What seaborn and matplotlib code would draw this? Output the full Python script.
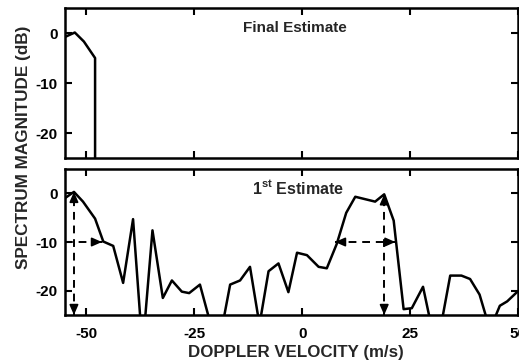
import numpy as np
import pandas as pd
import matplotlib
matplotlib.use("Agg")
import matplotlib.pyplot as plt
import seaborn as sns

# Doppler spectrum, first estimate (m/s, dB)
velocity = [-55, -52.9, -50.8, -48.0, -46.1, -43.8, -41.5, -39.2, -37.0, -34.7,
            -32.3, -30.2, -27.9, -26.2, -23.7, -21.4, -19.1, -16.7, -14.4, -12.1,
            -9.9, -7.8, -5.5, -3.2, -1.2, 1.1, 3.8, 5.7, 8.0, 10.2,
            12.3, 16.9, 19.0, 21.2, 23.5, 25.4, 28.0, 30.1, 32.2, 34.3,
            36.9, 38.9, 41.1, 43.5, 45.8, 47.5, 50.0]
first_db = [-1.0, 0.3, -1.7, -5.2, -9.9, -10.8, -18.4, -5.3, -32.0, -7.6,
            -21.5, -17.9, -20.2, -20.5, -18.75, -26.3, -30.0, -18.75, -17.9, -15.1,
            -27.0, -16.0, -14.4, -20.3, -12.2, -12.7, -15.1, -15.4, -10.4, -4.0,
            -0.7, -1.7, -0.2, -5.6, -23.8, -23.6, -19.2, -28.0, -27.0, -16.9,
            -16.9, -17.6, -20.8, -28.0, -23.1, -22.2, -20.1]

# Final estimate: only the clutter-free part near the low-velocity edge survives
final_velocity = [-55, -52.7, -50.6, -48.0, -48.0, 50.0]
final_db = [-0.8, 0.1, -1.7, -5.0, -40.0, -40.0]

# Width markers (-10 dB points) and peak locations
peak1_v, peak1_db = -52.9, 0.3
width1 = (-55.0, -46.4)
peak2_v, peak2_db = 19.0, -0.2
width2 = (7.6, 21.6)
level_db = -10.0

xticks = [-50, -25, 0, 25, 50]
yticks = [0, -10, -20]

sns.set_theme(style="ticks")
plt.rcParams["font.family"] = ["Liberation Sans", "DejaVu Sans"]
plt.rcParams["mathtext.fontset"] = "custom"
plt.rcParams["mathtext.rm"] = "Liberation Sans:bold"
plt.rcParams["mathtext.it"] = "Liberation Sans:bold"
plt.rcParams["axes.linewidth"] = 1.8
plt.rcParams["axes.unicode_minus"] = False

fig = plt.figure(figsize=(5.19, 3.61), dpi=100)
fig.patch.set_facecolor("white")
ax_top = fig.add_axes([0.125, 0.5623, 0.873, 0.4155])
ax_bot = fig.add_axes([0.125, 0.1274, 0.873, 0.4044])

df_first = pd.DataFrame({"v": velocity, "db": first_db})
df_final = pd.DataFrame({"v": final_velocity, "db": final_db})

sns.lineplot(data=df_final, x="v", y="db", ax=ax_top, color="black", lw=1.8,
             sort=False, estimator=None)
sns.lineplot(data=df_first, x="v", y="db", ax=ax_bot, color="black", lw=1.8,
             sort=False, estimator=None)

for ax in (ax_top, ax_bot):
    ax.set_xlim(-55, 50)
    ax.set_ylim(-25, 5)
    ax.set_xticks(xticks)
    ax.set_yticks(yticks)
    ax.tick_params(direction="in", length=5, width=1.5, top=True, right=True,
                   labelsize=11, colors="black")
    ax.tick_params(axis="y", pad=5)
    ax.tick_params(axis="x", pad=8.5)
    for lbl in ax.get_xticklabels() + ax.get_yticklabels():
        lbl.set_fontweight("bold")
    for s in ax.spines.values():
        s.set_color("black")
        s.set_visible(True)
    ax.set_xlabel("")
    ax.set_ylabel("")
    ax.set_facecolor("white")

ax_top.tick_params(labelbottom=False)
ax_bot.set_xticklabels([str(t) for t in xticks], fontweight="bold")

ax_top.text(-13.7, 1.0, "Final Estimate", fontsize=11, fontweight="bold",
            ha="left", va="center")
ax_bot.text(-11.6, 1.0, r"1$^{\mathrm{st}}$ Estimate", fontsize=11.5,
            fontweight="bold", ha="left", va="center")

dash_kw = dict(color="black", lw=1.4, ls=(0, (4, 3)))
head_kw = dict(arrowstyle="-|>,head_length=0.5,head_width=0.22", color="black",
               lw=1.2, shrinkA=0, shrinkB=0)

def dashed_arrow(ax, x0, y0, x1, y1, both=True):
    ax.plot([x0, x1], [y0, y1], **dash_kw, clip_on=False)
    dx, dy = (x1 - x0), (y1 - y0)
    ax.annotate("", xy=(x1, y1), xytext=(x1 - dx * 0.02, y1 - dy * 0.02),
                arrowprops=head_kw)
    if both:
        ax.annotate("", xy=(x0, y0), xytext=(x0 + dx * 0.02, y0 + dy * 0.02),
                    arrowprops=head_kw)

dashed_arrow(ax_bot, peak1_v, -25, peak1_v, peak1_db)
dashed_arrow(ax_bot, width1[0], level_db, width1[1], level_db, both=False)
dashed_arrow(ax_bot, peak2_v, -25, peak2_v, peak2_db)
dashed_arrow(ax_bot, width2[0], level_db, width2[1], level_db)

fig.text(0.571, 0.024, "DOPPLER VELOCITY (m/s)", fontsize=12.2,
         fontweight="bold", ha="center", va="center")
fig.text(0.046, 0.593, "SPECTRUM MAGNITUDE (dB)", fontsize=12.3, fontweight="bold",
         rotation=90, ha="center", va="center")

fig.savefig("out.png", dpi=100, facecolor="white")
